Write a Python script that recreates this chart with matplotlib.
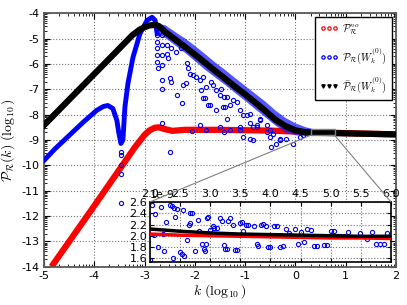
import numpy as np
import matplotlib
matplotlib.use("Agg")
import matplotlib.pyplot as plt
from matplotlib.patches import Rectangle, ConnectionPatch
from matplotlib.lines import Line2D
from matplotlib.ticker import FixedLocator, MultipleLocator

plt.rcParams['mathtext.fontset'] = 'cm'
plt.rcParams['axes.unicode_minus'] = False

# ---- main panel data (log10 k, log10 P) ----
red_x = [-4.85, -4.0, -3.5, -3.2, -3.0, -2.9, -2.8, -2.72, -2.6, -2.45, -2.2, -1.5, -0.5, 0.0, 0.5, 1.0, 2.0]
red_y = [-14.0, -11.6, -10.17, -9.31, -8.8, -8.62, -8.52, -8.5, -8.57, -8.64, -8.6, -8.6, -8.63, -8.67, -8.7, -8.73, -8.78]

black_x = [-5.0, -4.0, -3.5, -3.25, -3.1, -3.0, -2.9, -2.8, -2.72, -2.6, -2.4, -2.2, -2.0, -1.8, -1.6,
           -1.4, -1.2, -1.0, -0.8, -0.6, -0.4, -0.2, 0.0, 0.2, 0.5, 1.0, 1.5, 2.0]
black_y = [-8.42, -6.4, -5.39, -4.88, -4.65, -4.55, -4.48, -4.46, -4.5, -4.72, -5.02, -5.32, -5.63, -5.95, -6.27,
           -6.58, -6.9, -7.2, -7.52, -7.85, -8.2, -8.45, -8.62, -8.7, -8.72, -8.74, -8.76, -8.78]

blue_x = [-5.0, -4.78, -4.54, -4.22, -3.95, -3.82, -3.73, -3.63, -3.55, -3.51, -3.47, -3.43, -3.39, -3.33,
          -3.23, -3.09, -2.95, -2.85, -2.79, -2.75]
blue_y = [-9.81, -9.35, -8.9, -8.3, -7.83, -7.68, -7.64, -7.76, -8.23, -8.74, -9.14, -9.0, -7.7, -6.77,
          -5.74, -4.8, -4.28, -4.16, -4.28, -4.8]

# dense blue cloud hugging the black curve
band_x = [-2.75, -2.6, -2.4, -2.2, -2.0, -1.8, -1.6, -1.4, -1.2, -1.0, -0.8, -0.6, -0.4, -0.2, 0.0, 0.2, 0.4, 0.6, 0.8]
band_top = [-4.4, -4.45, -4.72, -4.98, -5.28, -5.6, -5.93, -6.23, -6.55, -6.86, -7.17, -7.48, -7.83, -8.12, -8.33,
            -8.48, -8.58, -8.64, -8.7]
band_bot = [-4.8, -4.95, -5.25, -5.55, -5.88, -6.22, -6.52, -6.82, -7.14, -7.45, -7.78, -8.1, -8.42, -8.68, -8.8,
            -8.82, -8.79, -8.77, -8.74]

# scattered blue points
sc_x = [-3.47, -3.47, -3.47, -3.47, -3.46, -2.50,
        -2.76, -2.76, -2.76, -2.76, -2.75, -2.73, -2.66, -2.66, -2.66, -2.66, -2.66, -2.66,
        -2.56, -2.55, -2.53, -2.48, -2.50, -2.48, -2.38, -2.36, -2.28, -2.26, -2.23, -2.18,
        -2.16, -2.13, -2.10, -2.03, -1.97, -1.90, -1.87, -1.83, -1.80, -1.73, -1.70, -1.67,
        -1.63, -1.57, -1.50, -1.47, -1.43, -1.40, -1.37, -1.30, -1.24, -1.17, -1.10, -1.04,
        -0.97, -0.90, -0.84, -0.77, -0.71, -0.57, -0.51, -0.44, -0.31, -2.06, -1.90, -1.77,
        -1.43, -1.30, -1.10, -0.90, -2.66, -1.83, -1.77, -1.57, -1.50, -1.44, -1.37, -1.10,
        -1.04, -0.90, -0.84, -0.77, -0.71, -0.57, -0.51, -0.48, -0.38, -0.31, -0.18, -0.04,
        0.09, 0.16]
sc_y = [-9.47, -9.6, -10.0, -10.34, -11.47, -9.47,
        -4.86, -5.13, -5.39, -5.65, -5.92, -6.18, -4.86, -5.26, -5.65, -6.05, -6.64, -6.97,
        -5.26, -5.59, -5.78, -5.39, -6.57, -6.71, -5.52, -7.23, -5.39, -7.56, -6.84, -6.77,
        -5.98, -6.18, -6.38, -6.44, -6.51, -6.64, -7.04, -7.36, -7.36, -7.63, -7.63, -6.71,
        -6.84, -7.04, -7.23, -6.97, -7.30, -7.69, -8.16, -7.63, -7.43, -7.50, -7.83, -8.02,
        -8.02, -8.35, -8.49, -8.42, -8.16, -8.42, -8.62, -8.75, -8.95, -8.66, -8.42, -8.62,
        -8.68, -8.62, -8.62, -8.95, -8.35, -6.51, -6.90, -7.83, -8.48, -7.69, -7.30, -8.48,
        -8.88, -7.96, -9.01, -8.48, -8.22, -8.68, -8.88, -9.27, -9.14, -9.01, -8.95, -9.14,
        -8.88, -8.81]

# ---- inset data (linear k, P in units of 1e-9) ----
ins_k = [2.0, 2.5, 3.0, 3.5, 4.0, 4.5, 5.0, 5.5, 6.0]
ins_black = [2.12, 2.08, 2.05, 2.03, 2.02, 2.01, 2.0, 1.99, 1.99]
ins_red = [2.03, 2.01, 2.0, 1.99, 1.98, 1.97, 1.96, 1.96, 1.95]

ins_sc_k = [2.00, 2.03, 2.08, 2.06, 2.14, 2.18, 2.21, 2.24, 2.27, 2.33, 2.36, 2.38, 2.39, 2.41, 2.44,
            2.50, 2.53, 2.55, 2.56, 2.61, 2.64, 2.66, 2.67, 2.69, 2.75, 2.79, 2.82, 2.86, 2.89, 2.91,
            2.93, 2.94, 2.97, 3.00, 3.04, 3.06, 3.11, 3.16, 3.19, 3.22, 3.24, 3.28, 3.30, 3.33, 3.38,
            3.41, 3.44, 3.49, 3.52, 3.55, 3.59, 3.62, 3.72, 3.77, 3.80, 3.85, 3.88, 3.93, 3.96, 3.99,
            4.06, 4.10, 4.16, 4.20, 4.26, 4.30, 4.33, 4.41, 4.46, 4.50, 4.56, 4.61, 4.67, 4.72, 4.77,
            4.89, 4.94, 5.00, 5.05, 5.11, 5.16, 5.22, 5.29, 5.49, 5.60, 5.68, 5.75, 5.82, 5.88, 5.94]
ins_sc_v = [1.56, 2.55, 2.38, 2.02, 1.79, 2.51, 2.03, 1.72, 2.24, 2.55, 2.53, 1.60, 2.50, 2.34, 2.47,
            1.70, 1.67, 2.46, 1.64, 1.92, 2.19, 2.22, 2.41, 2.40, 1.73, 2.28, 2.09, 1.85, 1.76, 1.72,
            1.86, 2.31, 2.34, 2.11, 2.17, 2.14, 2.14, 2.31, 2.26, 1.83, 1.76, 1.76, 2.26, 2.31, 2.19,
            1.74, 1.74, 2.22, 2.24, 2.09, 2.19, 2.19, 2.17, 1.85, 1.81, 2.19, 2.21, 2.18, 1.80, 1.80,
            2.17, 2.17, 1.79, 1.81, 2.12, 2.05, 2.02, 2.12, 1.85, 2.07, 1.88, 2.12, 2.11, 1.82, 1.82,
            1.83, 1.83, 2.09, 2.09, 2.00, 2.00, 1.99, 2.07, 2.05, 1.95, 2.07, 1.86, 1.86, 1.86, 2.04]
ins_ylim = (1.53, 2.605)

fig = plt.figure(figsize=(4.07, 3.05), dpi=100)
ax = fig.add_axes([0.108, 0.1256, 0.865, 0.831])

ax.plot(red_x, red_y, color='#ff0000', lw=4.5, solid_capstyle='butt', zorder=2)
ax.fill_between(band_x, band_bot, band_top, color='#1a1aff', alpha=0.75, lw=0, zorder=2.5)
ax.plot(blue_x, blue_y, color='#0000ff', lw=3.5, zorder=2.6)
ax.plot(sc_x, sc_y, ls='none', marker='o', mfc='none', mec='#0000ff', ms=3, mew=0.8, zorder=2.7)
ax.plot(black_x, black_y, color='black', lw=4.5, zorder=3)

ax.set_xlim(-5, 2)
ax.set_ylim(-14, -4)
ax.xaxis.set_major_locator(MultipleLocator(1))
ax.yaxis.set_major_locator(MultipleLocator(1))
sub = np.log10(np.arange(2, 10))
ax.xaxis.set_minor_locator(FixedLocator([d + s for d in range(-5, 2) for s in sub]))
ax.yaxis.set_minor_locator(FixedLocator([d + s for d in range(-14, -4) for s in sub]))
ax.tick_params(which='both', direction='in', top=True, right=True, labelsize=8, pad=3)
ax.tick_params(which='major', length=4)
ax.tick_params(which='minor', length=2)
ax.grid(True, which='major', ls=':', color='0.45', lw=0.8)
for s in ax.spines.values():
    s.set_color('0.35')
    s.set_linewidth(1.3)

ax.set_xlabel(r'$k\ (\log_{10})$', fontsize=10, labelpad=1)
ax.set_ylabel(r'$\bar{\mathcal{P}}_{\mathcal{R}}(k)\ (\log_{10})$', fontsize=10, labelpad=3)

handles = [
    Line2D([], [], ls='none', marker='o', mfc='none', mec='#ff0000', ms=2.4, mew=0.9),
    Line2D([], [], ls='none', marker='o', mfc='none', mec='#0000ff', ms=2.4, mew=0.9),
    Line2D([], [], ls='none', marker='v', color='black', ms=2.4),
]
labels = [r'$\mathcal{P}_{\mathcal{R}}^{no}$',
          r'$\mathcal{P}_{\mathcal{R}}(W_k^{(0)})$',
          r'$\bar{\mathcal{P}}_{\mathcal{R}}(W_k^{(0)})$']
leg = ax.legend(handles, labels, loc='upper right', numpoints=3, fontsize=7.5, fancybox=False,
                framealpha=1, edgecolor='black', borderaxespad=0.4, handlelength=1.8,
                handletextpad=0.4, labelspacing=0.85, borderpad=0.45)
leg.get_frame().set_linewidth(1.0)

# ---- inset ----
axins = fig.add_axes([0.3686, 0.141, 0.592, 0.197])
axins.plot(ins_sc_k, np.array(ins_sc_v) * 1e-9, ls='none', marker='o', mfc='none', mec='#0000ff',
           ms=3, mew=0.8, zorder=2)
axins.plot(ins_k, np.array(ins_red) * 1e-9, color='#ff0000', lw=2.5, zorder=3)
axins.plot(ins_k, np.array(ins_black) * 1e-9, color='black', lw=2.5, zorder=3.5)
axins.set_xlim(2.0, 6.0)
axins.set_ylim(ins_ylim[0] * 1e-9, ins_ylim[1] * 1e-9)
axins.xaxis.set_major_locator(MultipleLocator(0.5))
axins.yaxis.set_major_locator(MultipleLocator(0.2e-9))
axins.tick_params(direction='in', top=True, right=True, labeltop=True, labelbottom=False,
                  labelsize=8, pad=2, length=3)
axins.yaxis.get_offset_text().set_fontsize(8)
axins.grid(True, ls=':', color='0.45', lw=0.8)
for s in axins.spines.values():
    s.set_color('black')
    s.set_linewidth(1.2)

# zoom box on the main axes and connecting lines
x0, x1 = np.log10(ins_k[0]), np.log10(ins_k[-1])
y0, y1 = np.log10(ins_ylim[0] * 1e-9), np.log10(ins_ylim[1] * 1e-9)
ax.add_patch(Rectangle((x0, y0), x1 - x0, y1 - y0, fill=False, ec='0.5', lw=1, zorder=4))
for xa, xb in [(0, x0), (1, x1)]:
    con = ConnectionPatch(xyA=(xa, 1), coordsA=axins.transAxes, xyB=(xb, y0), coordsB=ax.transData,
                          color='0.5', lw=0.8)
    fig.add_artist(con)

fig.savefig('out.png', dpi=100)
